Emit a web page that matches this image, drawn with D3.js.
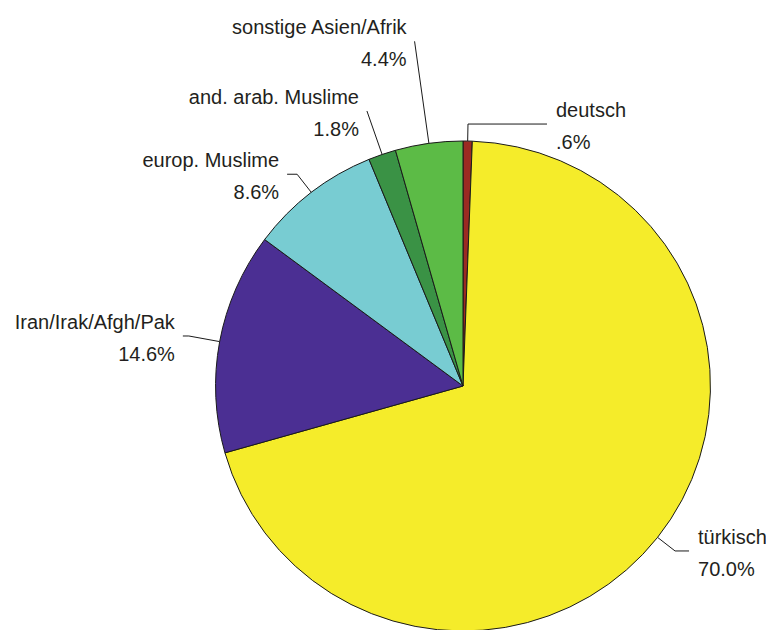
<!DOCTYPE html>
<html>
<head>
<meta charset="utf-8">
<script src="https://cdn.jsdelivr.net/npm/d3@7"></script>
<style>
  html, body { margin: 0; padding: 0; background: #fff; }
  svg { display: block; }
  text { font-family: "Liberation Sans", Arial, sans-serif; font-size: 20px; fill: #231f20; }
</style>
</head>
<body>
<svg id="chart" width="766" height="630"></svg>
<script>
// ---- data ----
const categories = ["deutsch", "türkisch", "Iran/Irak/Afgh/Pak", "europ. Muslime", "and. arab. Muslime", "sonstige Asien/Afrik"];
const values = [0.6, 70.0, 14.6, 8.6, 1.8, 4.4];
const valueLabels = [".6%", "70.0%", "14.6%", "8.6%", "1.8%", "4.4%"];
const colors = ["#9b2a22", "#f5ec2a", "#4b2f93", "#78ccd2", "#3a9245", "#5cbb46"];

// ---- layout ----
const cx = 463, cy = 386, r = 245;
// per-label leader geometry: elbow radius, horizontal run (signed)
const leaderElbow = [262, 267, 276, 268, 291, 348];
const leaderRun   = [79, 14, -6, -10, 0, 0];

const svg = d3.select("#chart");
const g = svg.append("g").attr("transform", `translate(${cx},${cy}) scale(1.01,1)`);

const data = categories.map((c, i) => ({ name: c, value: values[i], label: valueLabels[i], color: colors[i] }));
const pie = d3.pie().sort(null).value(d => d.value);
const arcs = pie(data);
const arc = d3.arc().innerRadius(0).outerRadius(r);

g.selectAll("path.slice")
  .data(arcs)
  .enter().append("path")
  .attr("class", "slice")
  .attr("d", arc)
  .attr("fill", d => d.data.color)
  .attr("stroke", "#1a1a1a")
  .attr("stroke-width", 1)
  .attr("vector-effect", "non-scaling-stroke");

const lab = svg.append("g").attr("transform", `translate(${cx},${cy})`);
function pt(angle, rad) { return [1.01 * rad * Math.sin(angle), -rad * Math.cos(angle)]; }

arcs.forEach((d, i) => {
  const mid = (d.startAngle + d.endAngle) / 2;
  const p0 = pt(mid, r);
  const p1 = pt(mid, leaderElbow[i]);
  const p2 = [p1[0] + leaderRun[i], p1[1]];
  lab.append("polyline")
    .attr("points", [p0, p1, p2].map(p => p.join(",")).join(" "))
    .attr("fill", "none")
    .attr("stroke", "#1a1a1a")
    .attr("stroke-width", 1);
  const right = Math.sin(mid) > 0;
  const tx = right ? p2[0] + 9 : p2[0] - 8;
  const anchor = right ? "start" : "end";
  lab.append("text").attr("x", tx).attr("y", p2[1] - 7).attr("text-anchor", anchor).text(d.data.name);
  lab.append("text").attr("x", tx).attr("y", p2[1] + 25).attr("text-anchor", anchor).text(d.data.label);
});
</script>
</body>
</html>
